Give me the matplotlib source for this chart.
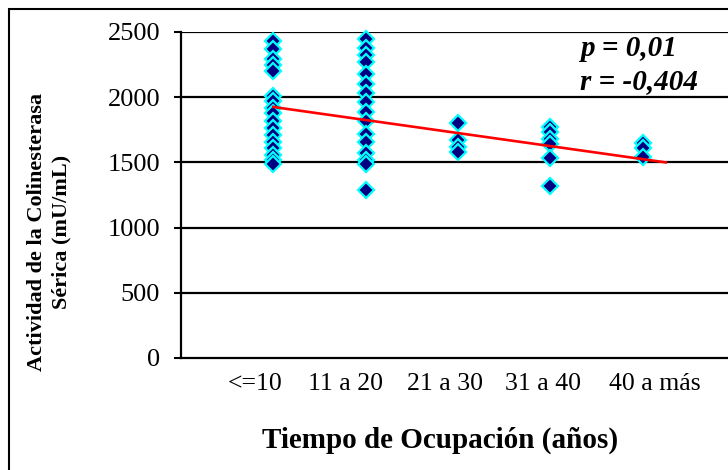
import matplotlib
matplotlib.use("Agg")
import matplotlib.pyplot as plt
from matplotlib.patches import Rectangle

plt.rcParams['font.family'] = ['Liberation Serif', 'DejaVu Serif']

# Data
categories = ['<=10', '11 a 20', '21 a 30', '31 a 40', '40 a más']
actividad = [
    [2430, 2370, 2290, 2250, 2200, 2010, 1970, 1920, 1880, 1820,
     1760, 1710, 1660, 1610, 1560, 1520, 1490],
    [2450, 2380, 2320, 2270, 2180, 2100, 2030, 1960, 1890, 1820,
     1720, 1660, 1570, 1520, 1490, 1290],
    [1800, 1670, 1620, 1580],
    [1770, 1730, 1680, 1640, 1530, 1320],
    [1650, 1610, 1540],
]
# trend line end points (x in category units, y in mU/mL)
trend_x = [1, 5.25]
trend_y = [1925, 1500]
yticks = [0, 500, 1000, 1500, 2000, 2500]
# label centres as drawn in the original (slightly off the point columns)
label_pos = [0.80, 1.78, 2.86, 3.92, 5.13]

fig = plt.figure(figsize=(7.28, 4.70), dpi=100)
ax = fig.add_axes([181 / 728, 1 - 358 / 470, 554 / 728, 326 / 470])

for i, vals in enumerate(actividad):
    ax.plot([i + 1] * len(vals), vals, linestyle='none', marker='D',
            markersize=8.5, markerfacecolor='#000080',
            markeredgecolor='#00FFFF', markeredgewidth=1.6, zorder=3,
            clip_on=False)

ax.plot(trend_x, trend_y, color='#FF0000', linewidth=1.9, zorder=4)

ax.set_xlim(0, 6)
ax.set_ylim(0, 2500)
ax.set_yticks(yticks)
ax.set_yticklabels([str(v) for v in yticks], fontsize=19)
ax.set_xticks(label_pos)
ax.set_xticklabels(categories, fontsize=18.5)
ax.tick_params(axis='x', length=0, pad=11)
ax.tick_params(axis='y', length=5, width=1.5, pad=10)

for v in yticks[1:]:
    ax.axhline(v, color='black', linewidth=1.6, zorder=1)

for side in ['top', 'right']:
    ax.spines[side].set_visible(False)
ax.spines['left'].set_linewidth(1.6)
ax.spines['bottom'].set_linewidth(1.6)

fig.text(580 / 728, 1 - 48 / 470, 'p = 0,01',
         fontsize=21, fontweight='bold', style='italic', va='center', ha='left')
fig.text(580 / 728, 1 - 82 / 470, 'r = -0,404',
         fontsize=21, fontweight='bold', style='italic', va='center', ha='left')

fig.text(37 / 728, 1 - 232 / 470, 'Actividad de la Colinesterasa',
         rotation=90, fontsize=16, fontweight='bold', ha='center', va='center')
fig.text(61 / 728, 1 - 232 / 470, 'Sérica (mU/mL)',
         rotation=90, fontsize=16, fontweight='bold', ha='center', va='center')
fig.text(440 / 728, 1 - 440 / 470, 'Tiempo de Ocupación (años)',
         fontsize=21, fontweight='bold', ha='center', va='center')

# outer frame of the chart (cut off on the right and bottom)
fig.patches.append(Rectangle((9 / 728, -0.1), 1.1, (1 - 9 / 470) + 0.1,
                             transform=fig.transFigure, fill=False,
                             edgecolor='black', linewidth=1.5))

fig.savefig('out.png', dpi=100)
